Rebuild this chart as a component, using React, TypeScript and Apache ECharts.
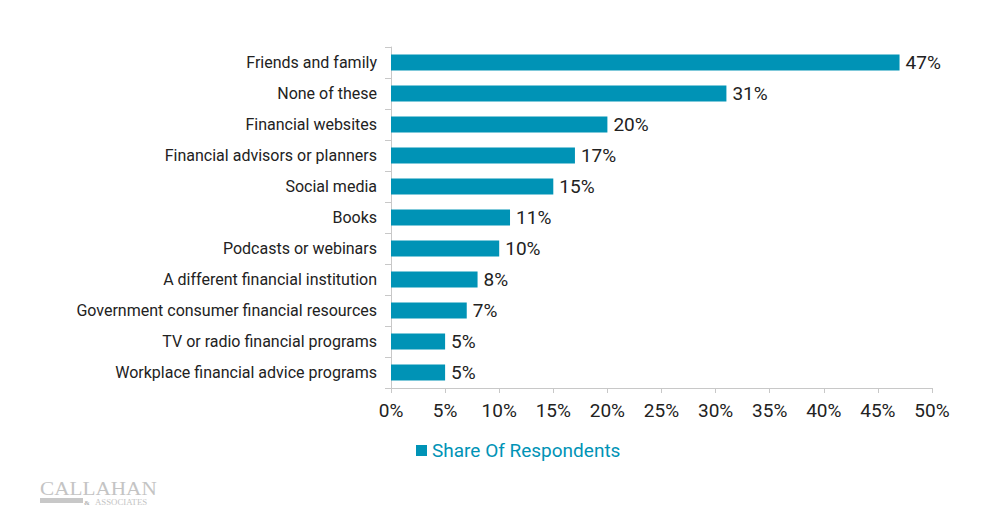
import React, { useEffect, useRef } from "react";
import * as echarts from "echarts";

const categories = [
  "Friends and family",
  "None of these",
  "Financial websites",
  "Financial advisors or planners",
  "Social media",
  "Books",
  "Podcasts or webinars",
  "A different financial institution",
  "Government consumer financial resources",
  "TV or radio financial programs",
  "Workplace financial advice programs",
];
const values = [47, 31, 20, 17, 15, 11, 10, 8, 7, 5, 5];
const seriesName = "Share Of Respondents";

export default function App() {
  const ref = useRef<HTMLDivElement>(null);
  useEffect(() => {
    if (!ref.current) return;
    const chart = echarts.init(ref.current, null, { renderer: "svg" });
    const cats = [...categories].reverse();
    const vals = [...values].reverse();
    chart.setOption({
      animation: false,
      textStyle: { fontFamily: "Roboto" },
      grid: { left: 391, right: 68, top: 47, bottom: 130, containLabel: false },
      legend: {
        data: [seriesName],
        left: 411,
        top: 436,
        itemWidth: 11,
        itemHeight: 11,
        itemGap: 5,
        icon: "rect",
        textStyle: { color: "#0093b6", fontSize: 19, fontFamily: "Roboto" },
      },
      xAxis: {
        type: "value",
        min: 0,
        max: 50,
        interval: 5,
        axisLine: { show: true, lineStyle: { color: "#c8c8c8" } },
        axisTick: { show: true, length: 5, lineStyle: { color: "#c8c8c8" } },
        splitLine: { show: false },
        axisLabel: {
          formatter: "{value}%",
          color: "#222",
          fontSize: 19,
          margin: 13,
          fontFamily: "Roboto",
        },
      },
      yAxis: {
        type: "category",
        data: cats,
        axisLine: { show: true, lineStyle: { color: "#c8c8c8" } },
        axisTick: { show: true, length: 6, alignWithLabel: false, lineStyle: { color: "#c8c8c8" } },
        axisLabel: { color: "#222", fontSize: 16, margin: 14, fontFamily: "Roboto" },
      },
      series: [
        {
          name: seriesName,
          type: "bar",
          data: vals,
          barWidth: "51%",
          itemStyle: { color: "#0093b6" },
          label: {
            show: true,
            position: "right",
            distance: 6,
            formatter: "{c}%",
            color: "#222",
            fontSize: 19,
            fontFamily: "Roboto",
          },
        },
      ],
      graphic: [
        {
          type: "text",
          x: 40,
          y: 480,
          scaleX: 1.18,
          style: {
            text: "CALLAHAN",
            font: "18px 'Liberation Serif', serif",
            fill: "#c4c4c4",
          },
        },
        {
          type: "rect",
          shape: { x: 40, y: 498, width: 43, height: 5 },
          style: { fill: "#c8c8c8" },
        },
        {
          type: "text",
          x: 84,
          y: 499,
          style: {
            text: "&",
            font: "bold 7px 'Liberation Serif', serif",
            fill: "#b0b0b0",
          },
        },
        {
          type: "text",
          x: 95,
          y: 499,
          scaleX: 1.1,
          style: {
            text: "ASSOCIATES",
            font: "8px 'Liberation Serif', serif",
            fill: "#c4c4c4",
          },
        },
      ],
    });
    return () => chart.dispose();
  }, []);
  return (
    <div
      ref={ref}
      style={{ position: "absolute", left: 0, top: 0, width: 1000, height: 518 }}
    />
  );
}
